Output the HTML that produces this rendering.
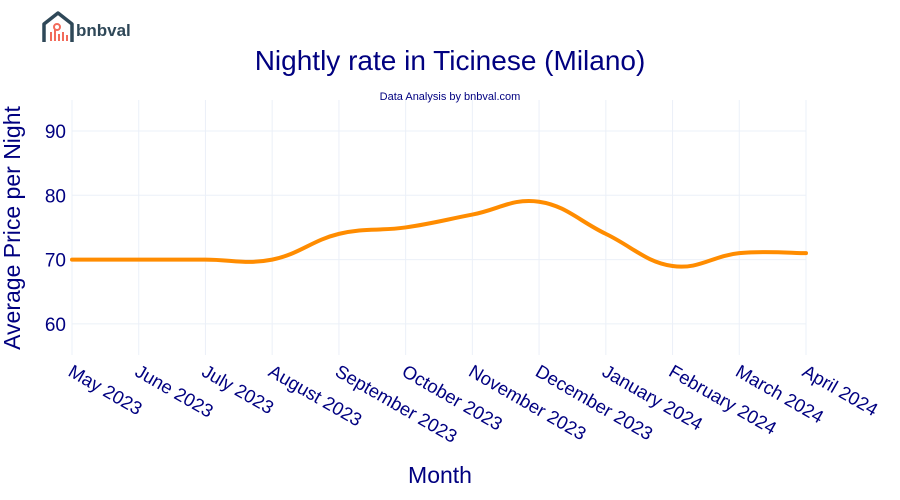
<!DOCTYPE html>
<html><head><meta charset="utf-8">
<style>
html,body{margin:0;padding:0;background:#fff;}
svg{display:block;font-family:"Liberation Sans",Arial,sans-serif;}
</style></head>
<body>
<svg id="chart" width="900" height="500" viewBox="0 0 900 500">
  <g>
    <path d="M44 42 V24 L58 13 L72 24 V42" fill="none" stroke="#2f4858" stroke-width="3.5" stroke-linejoin="round"/>
    <circle cx="57" cy="27" r="3" fill="none" stroke="#f26b5b" stroke-width="2"/>
    <rect x="50" y="32" width="2" height="9" fill="#f26b5b"/>
    <rect x="54" y="29" width="2" height="12" fill="#f26b5b"/>
    <rect x="58" y="34" width="2" height="7" fill="#f26b5b"/>
    <rect x="62" y="32" width="2" height="9" fill="#f26b5b"/>
    <rect x="66" y="35" width="2" height="6" fill="#f26b5b"/>
    <text x="76" y="36" font-size="17" font-weight="bold" fill="#2f4858">bnbval</text>
  </g>
  <text x="450" y="70" text-anchor="middle" font-size="28" fill="#000080">Nightly rate in Ticinese (Milano)</text>
  <text x="450" y="100" text-anchor="middle" font-size="11" fill="#000080">Data Analysis by bnbval.com</text>
  <g id="grid"></g>
  <g id="axes"></g>
  <path id="line" fill="none" stroke="#ff8c00" stroke-width="4" stroke-linecap="round"/>
  <text x="440" y="483" text-anchor="middle" font-size="23" fill="#000080">Month</text>
  <text transform="translate(20,228) rotate(-90)" text-anchor="middle" font-size="23" fill="#000080">Average Price per Night</text>
</svg>
<script>
const categories = ["May 2023","June 2023","July 2023","August 2023","September 2023","October 2023","November 2023","December 2023","January 2024","February 2024","March 2024","April 2024"];
const prices = [70,70,70,70,74,75,77,79,74,69,71,71];
const yTicks = [60,70,80,90];

const NS="http://www.w3.org/2000/svg";
const L=72,R=806,T=100,B=355;
function x(i){return L+(R-L)*i/(categories.length-1);}
function y(v){return 259.6-(v-70)*6.43;}
const grid=document.getElementById('grid'),axes=document.getElementById('axes');
function mk(tag,attrs,parent){const e=document.createElementNS(NS,tag);for(const k in attrs)e.setAttribute(k,attrs[k]);parent.appendChild(e);return e;}
categories.forEach((c,i)=>{
  const g=mk('line',{x1:x(i),x2:x(i),y1:T,y2:B,stroke:'#ebf0f8','stroke-width':1},grid);
  
  
  const t=mk('text',{transform:`translate(${x(i)-5},${B+20}) rotate(30)`,'font-size':18.5,fill:'#000080'},axes);
  t.textContent=c;
  
  
});
yTicks.forEach(v=>{
  const g=mk('line',{x1:L,x2:R,y1:y(v),y2:y(v),stroke:'#ebf0f8','stroke-width':1},grid);
  
  
  const t=mk('text',{x:66,y:y(v)+7,'text-anchor':'end','font-size':19,fill:'#000080'},axes);
  t.textContent=v;
  
  
});
const pts=prices.map((v,i)=>[x(i),y(v)]);
let d=`M${pts[0][0]},${pts[0][1]}`;
const s=0.2;
for(let i=0;i<pts.length-1;i++){
  const p0=pts[Math.max(i-1,0)],p1=pts[i],p2=pts[i+1],p3=pts[Math.min(i+2,pts.length-1)];
  const c1=[p1[0]+(p2[0]-p0[0])*s,p1[1]+(p2[1]-p0[1])*s];
  const c2=[p2[0]-(p3[0]-p1[0])*s,p2[1]-(p3[1]-p1[1])*s];
  d+=` C${c1[0]},${c1[1]} ${c2[0]},${c2[1]} ${p2[0]},${p2[1]}`;
}
document.getElementById('line').setAttribute('d',d);
</script>
</body></html>
